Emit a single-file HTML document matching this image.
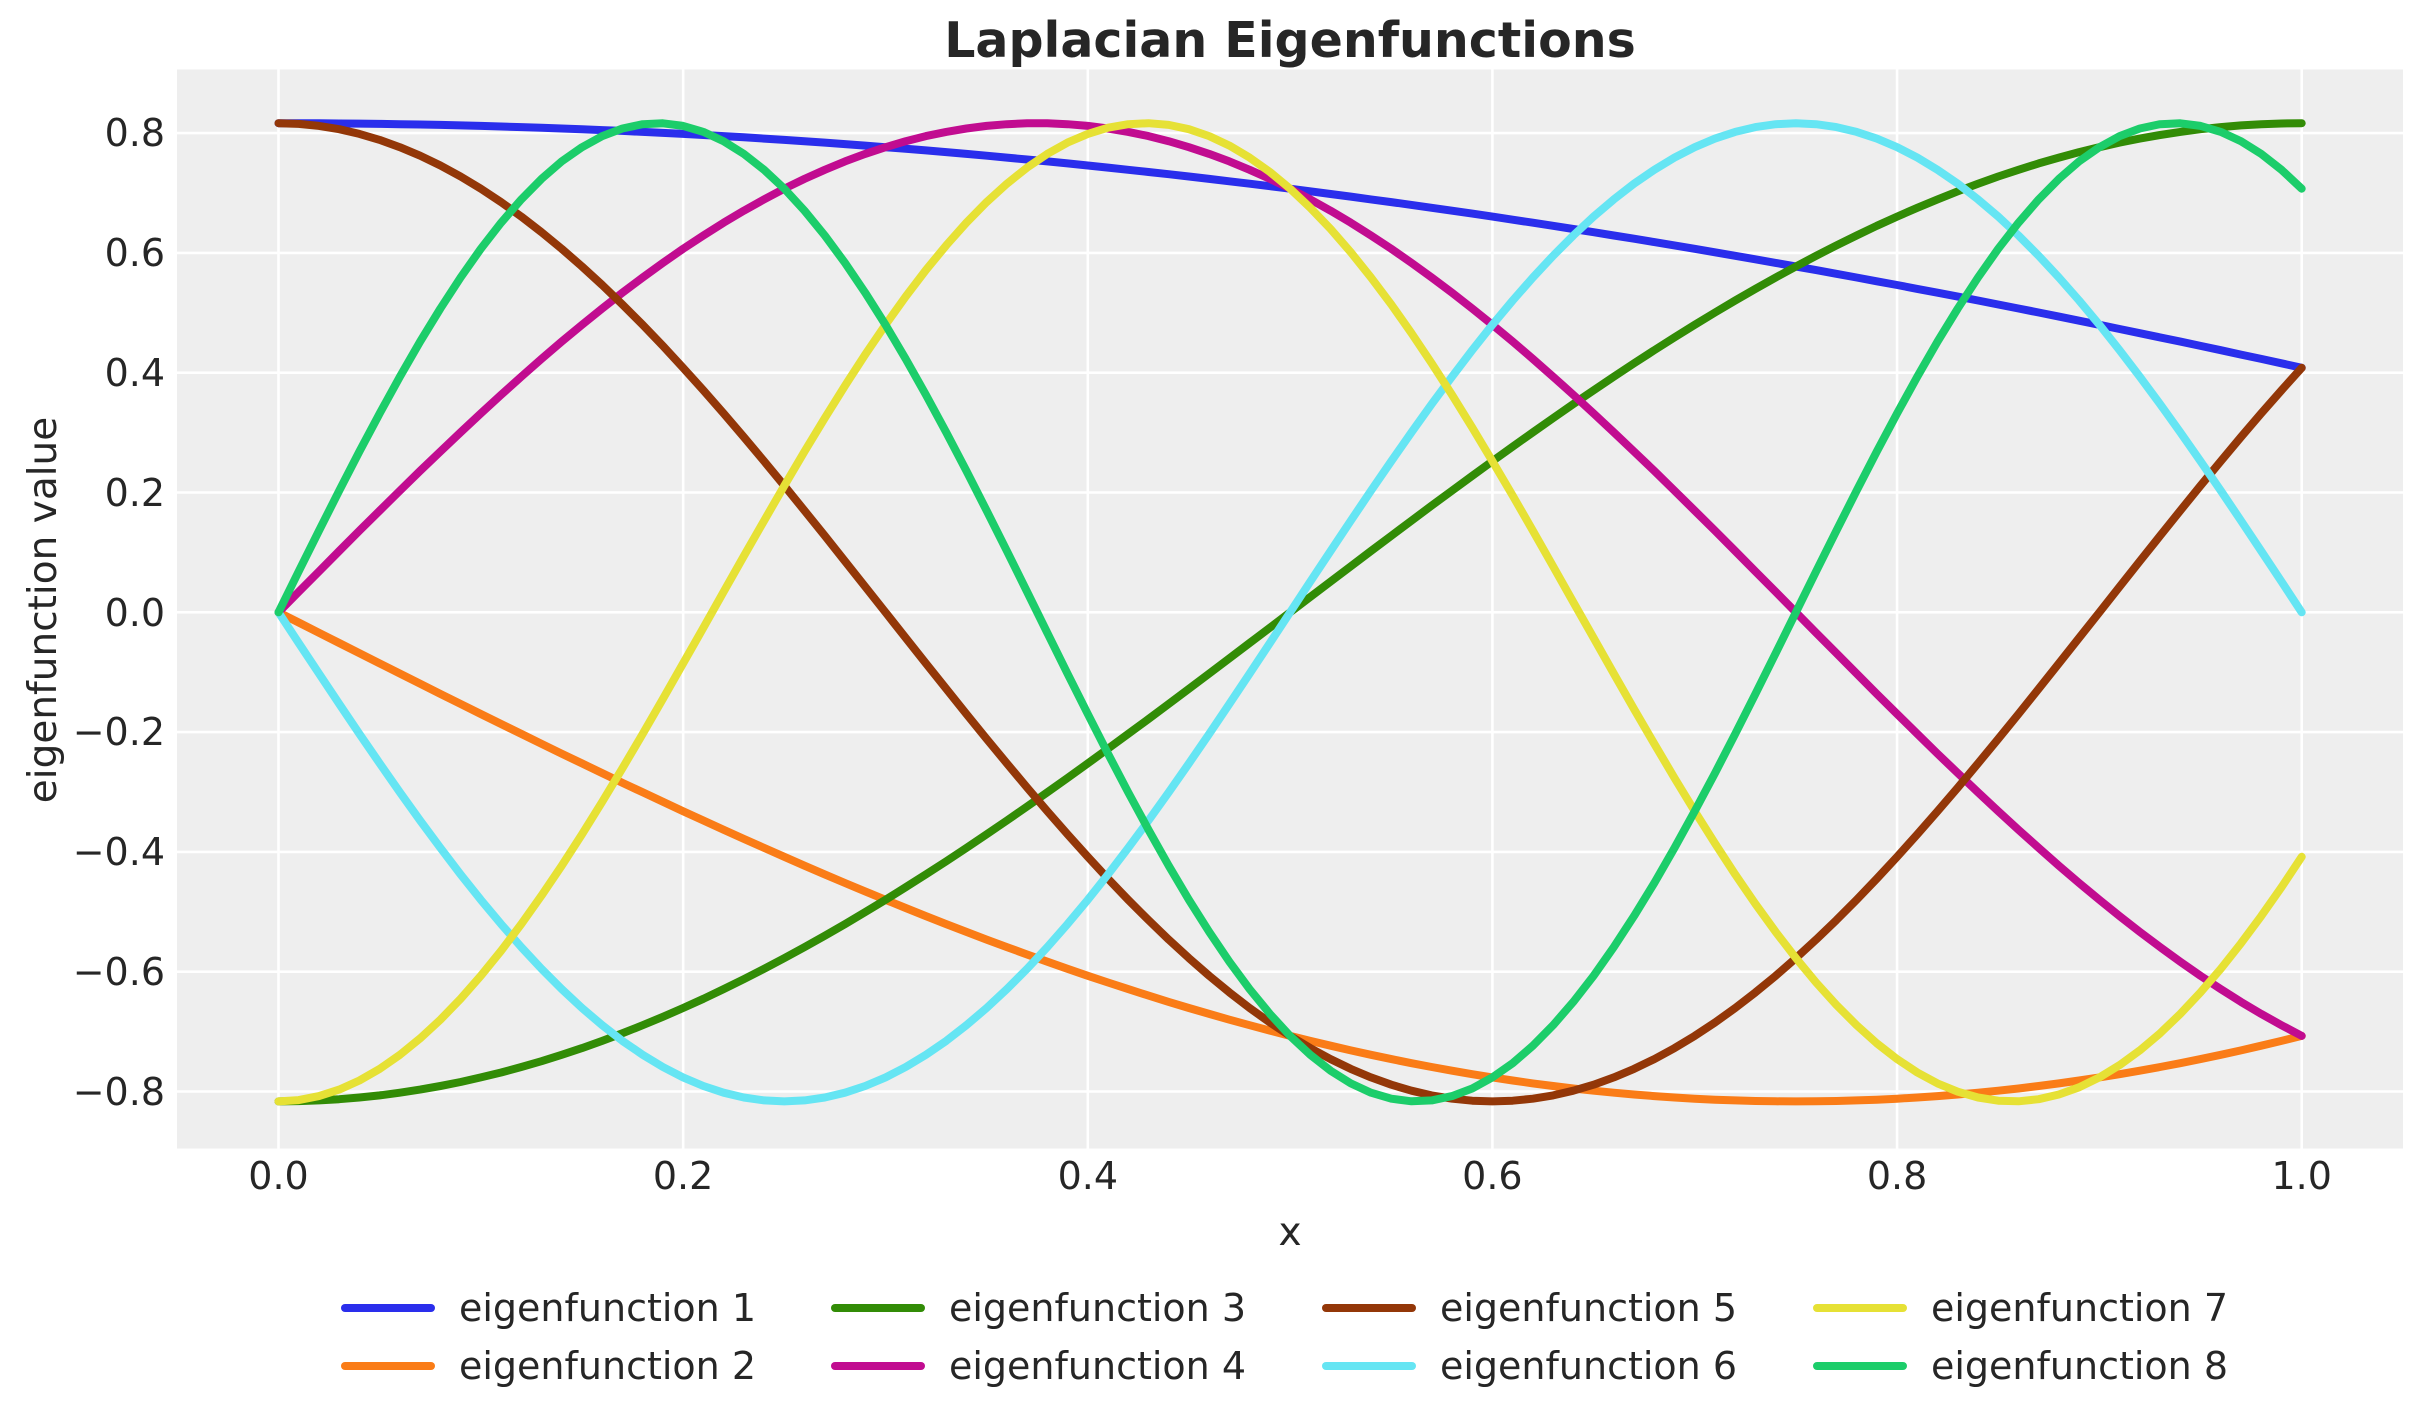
<!DOCTYPE html>
<html><head><meta charset="utf-8"><style>
html,body{margin:0;padding:0;background:#fff;}
svg{display:block;font-family:"DejaVu Sans","Liberation Sans",sans-serif;}
</style></head><body>
<svg id="s" width="2423" height="1423" viewBox="0 0 2423 1423" xmlns="http://www.w3.org/2000/svg">
<rect x="0" y="0" width="2423" height="1423" fill="#fff"/>
<rect x="177" y="69.5" width="2226" height="1079" fill="#eeeeee"/>
<g id="grid" stroke="#fff" stroke-width="2.6"></g>
<g id="lines" fill="none" stroke-width="8" stroke-linejoin="round" stroke-linecap="round"></g>
<g fill="#262626" font-size="38" text-anchor="end">
<text x="165" y="146">0.8</text>
<text x="165" y="266">0.6</text>
<text x="165" y="386">0.4</text>
<text x="165" y="506">0.2</text>
<text x="165" y="626">0.0</text>
<text x="165" y="745">−0.2</text>
<text x="165" y="865">−0.4</text>
<text x="165" y="985">−0.6</text>
<text x="165" y="1105">−0.8</text>
</g>
<g fill="#262626" font-size="38" text-anchor="middle">
<text x="278.5" y="1189">0.0</text>
<text x="683.1" y="1189">0.2</text>
<text x="1087.8" y="1189">0.4</text>
<text x="1492.4" y="1189">0.6</text>
<text x="1897.1" y="1189">0.8</text>
<text x="2301.7" y="1189">1.0</text>
<text x="1290" y="1245" font-size="39">x</text>
<text x="0" y="0" font-size="39" transform="translate(56,610) rotate(-90)">eigenfunction value</text>
<text x="1290" y="57" font-size="49" font-weight="bold">Laplacian Eigenfunctions</text>
</g>
<g id="legend" font-size="38" fill="#262626"></g>
</svg>
<script>
var X0=278.5,XS=2023.2,Y0=612.3,YS=599;
function px(x){return X0+x*XS;} function py(y){return Y0-y*YS;}
var g=document.getElementById('grid'),ns="http://www.w3.org/2000/svg";
for(var i=0;i<=5;i++){var l=document.createElementNS(ns,'line');var x=px(i*0.2);l.setAttribute('x1',x);l.setAttribute('x2',x);l.setAttribute('y1',69.5);l.setAttribute('y2',1148.5);g.appendChild(l);}
for(var i=-4;i<=4;i++){var l=document.createElementNS(ns,'line');var y=py(i*0.2);l.setAttribute('y1',y);l.setAttribute('y2',y);l.setAttribute('x1',177);l.setAttribute('x2',2403);g.appendChild(l);}
var cols=["#2a2eec","#fa7c17","#328c06","#c10c90","#933708","#65e5f3","#e6e135","#1ccd6a"];
var L=1.5,A=Math.sqrt(1/L),lg=document.getElementById('lines');
for(var j=1;j<=8;j++){var pts=[];for(var k=0;k<=100;k++){var x=k/100;var y=A*Math.sin(Math.PI*j*(x+L)/(2*L));pts.push(px(x).toFixed(1)+","+py(y).toFixed(1));}
var p=document.createElementNS(ns,'polyline');p.setAttribute('points',pts.join(' '));p.setAttribute('stroke',cols[j-1]);lg.appendChild(p);}
var leg=document.getElementById('legend');var cx=[345,835,1326,1817],ry=[1308,1366];
for(var j=0;j<8;j++){var c=Math.floor(j/2),r=j%2;var l=document.createElementNS(ns,'line');
l.setAttribute('x1',cx[c]);l.setAttribute('x2',cx[c]+86);l.setAttribute('y1',ry[r]);l.setAttribute('y2',ry[r]);l.setAttribute('stroke',cols[j]);l.setAttribute('stroke-width',8);l.setAttribute('stroke-linecap','round');leg.appendChild(l);
var t=document.createElementNS(ns,'text');t.setAttribute('x',cx[c]+114);t.setAttribute('y',ry[r]+13);t.textContent="eigenfunction "+(j+1);leg.appendChild(t);}
</script>
</body></html>
